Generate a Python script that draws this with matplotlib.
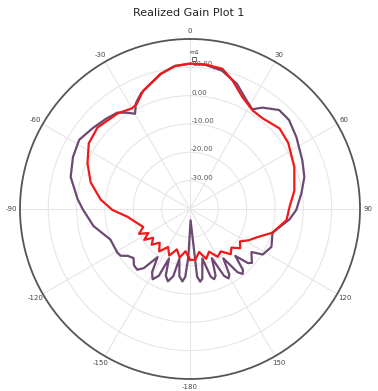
import numpy as np
import matplotlib
matplotlib.use("Agg")
import matplotlib.pyplot as plt

# Data (angle in deg, realized gain in dB)
purple_theta = [-178, -176, -174, -171, -168, -166, -163, -160, -157, -155, -152, -149,
                -146, -142, -139, -135, -131, -127, -124, -121,
                -111, -100, -90, -85, -75, -66, -58, -50, -43, -37, -33, -30, -27, -23,
                -17.6, -12, -6, 0, 6, 13, 20.5, 27.6, 32, 35.6, 42, 48, 56, 66.6, 74.4,
                82, 90.5, 96, 106, 115, 122, 125, 129, 131, 133, 136, 139, 141, 143, 146,
                149, 151, 153, 156, 159, 161, 163, 166, 170, 172, 174, 177]
purple_gain = [-23, -16, -14.3, -16, -22, -15.5, -13.3, -15, -21, -14, -11.9, -14,
               -19.5, -13.5, -11.6, -12, -13.6, -12.5, -10.5, -10.1,
               -9.9, -5.4, -2.1, -0.2, 3.6, 5.2, 6.1, 4.6, 3.5, 2.6, 0.5, -1.2, 2.0, 4.3,
               6.3, 8.8, 10.8, 11.3, 11.2, 10.1, 7.2, 3.2, 1.5, 4.0, 7.0, 7.0, 5.3, 3.2, 1.9,
               -0.3, -2.5, -4.7, -9.7, -8.3, -9.7, -13.5, -12, -11, -12, -17, -11.5, -10.5,
               -12, -19, -13, -12, -13.5, -21, -14.8, -13.8, -15, -22, -15, -14.1, -16, -36]

red_theta = [-180, -174, -168, -162, -156, -150, -144, -138, -133, -128, -124, -120, -116,
             -111, -97, -90.7, -84, -75, -66, -57, -48.6, -37, -30, -27, -21.6, -17.6, -12.4,
             -6, 0, 6, 13, 18.4, 25.3, 32.5, 38.7, 48, 56, 68, 80, 89, 96.5, 106, 113, 118,
             123, 128, 133, 138, 144, 150, 156, 162, 168, 174]
red_gain = [-22, -25, -22.5, -25, -22, -24.5, -21.5, -24, -21.5, -23.5, -20.5, -23, -20,
            -22.3, -17.7, -12.6, -8.3, -3.7, -0.4, 2.6, 3.5, 2.3, 1.0, 1.5, 4.9, 6.3, 8.8,
            10.7, 11.3, 11.3, 10.8, 7.7, 3.5, 1.2, 1.0, 2.5, 1.8, -0.3, -2.6, -4.9, -5.7,
            -9.7, -14.4, -16.5, -19, -17.5, -20, -18.5, -21.5, -20.5, -23.5, -21.5, -24.5, -22]

ring_values = [-30, -20, -10, 0, 10]
angle_ticks = [0, 30, 60, 90, 120, 150, 180, 210, 240, 270, 300, 330]
angle_labels = ["0", "30", "60", "90", "120", "150", "-180", "-150", "-120", "-90", "-60", "-30"]

fig = plt.figure(figsize=(3.78, 3.91), dpi=100)
ax = fig.add_axes([0.0529, 0.0307, 0.8995, 0.8696], projection="polar")
ax.set_theta_zero_location("N")
ax.set_theta_direction(-1)
ax.set_ylim(-40, 20)

def closed(t, g):
    t = np.deg2rad(np.append(t, t[0]))
    g = np.append(g, g[0])
    return t, g

pt, pg = closed(purple_theta, purple_gain)
rt, rg = closed(red_theta, red_gain)
ax.plot(pt, pg, color="#6d4873", lw=1.6, zorder=3)
ax.plot(rt, rg, color="#f01818", lw=1.6, zorder=4)

# marker m1
ax.plot(np.deg2rad(1.5), 13.0, marker="s", ms=3, mfc="none", mec="#555555", mew=0.6, zorder=5)
ax.text(np.deg2rad(1.5), 15.3, "m1", fontsize=4.5, color="#333333", ha="center", va="center")

# grid
ax.set_yticks(ring_values)
ax.set_yticklabels([])
ax.set_xticks(np.deg2rad(angle_ticks))
ax.set_xticklabels(angle_labels, fontsize=5, color="#444444")
ax.set_xticks(np.deg2rad(np.arange(0, 360, 5)), minor=True)
ax.grid(True, color="#e6e6e6", lw=0.8)
ax.tick_params(axis="x", which="major", length=7, width=0.8, direction="in", color="#555555", pad=-1)
ax.tick_params(axis="x", which="minor", length=3.5, width=0.6, direction="in", color="#555555")
ax.spines["polar"].set_color("#555555")
ax.spines["polar"].set_linewidth(1.3)

for v in ring_values:
    ax.text(np.deg2rad(0.8), v + 1.0, f"{v:.2f}", fontsize=5, color="#555555",
            ha="left", va="center")

fig.text(0.5, 0.968, "Realized Gain Plot 1", ha="center", va="center", fontsize=8, color="#222222")

fig.savefig("out.png", dpi=100)
